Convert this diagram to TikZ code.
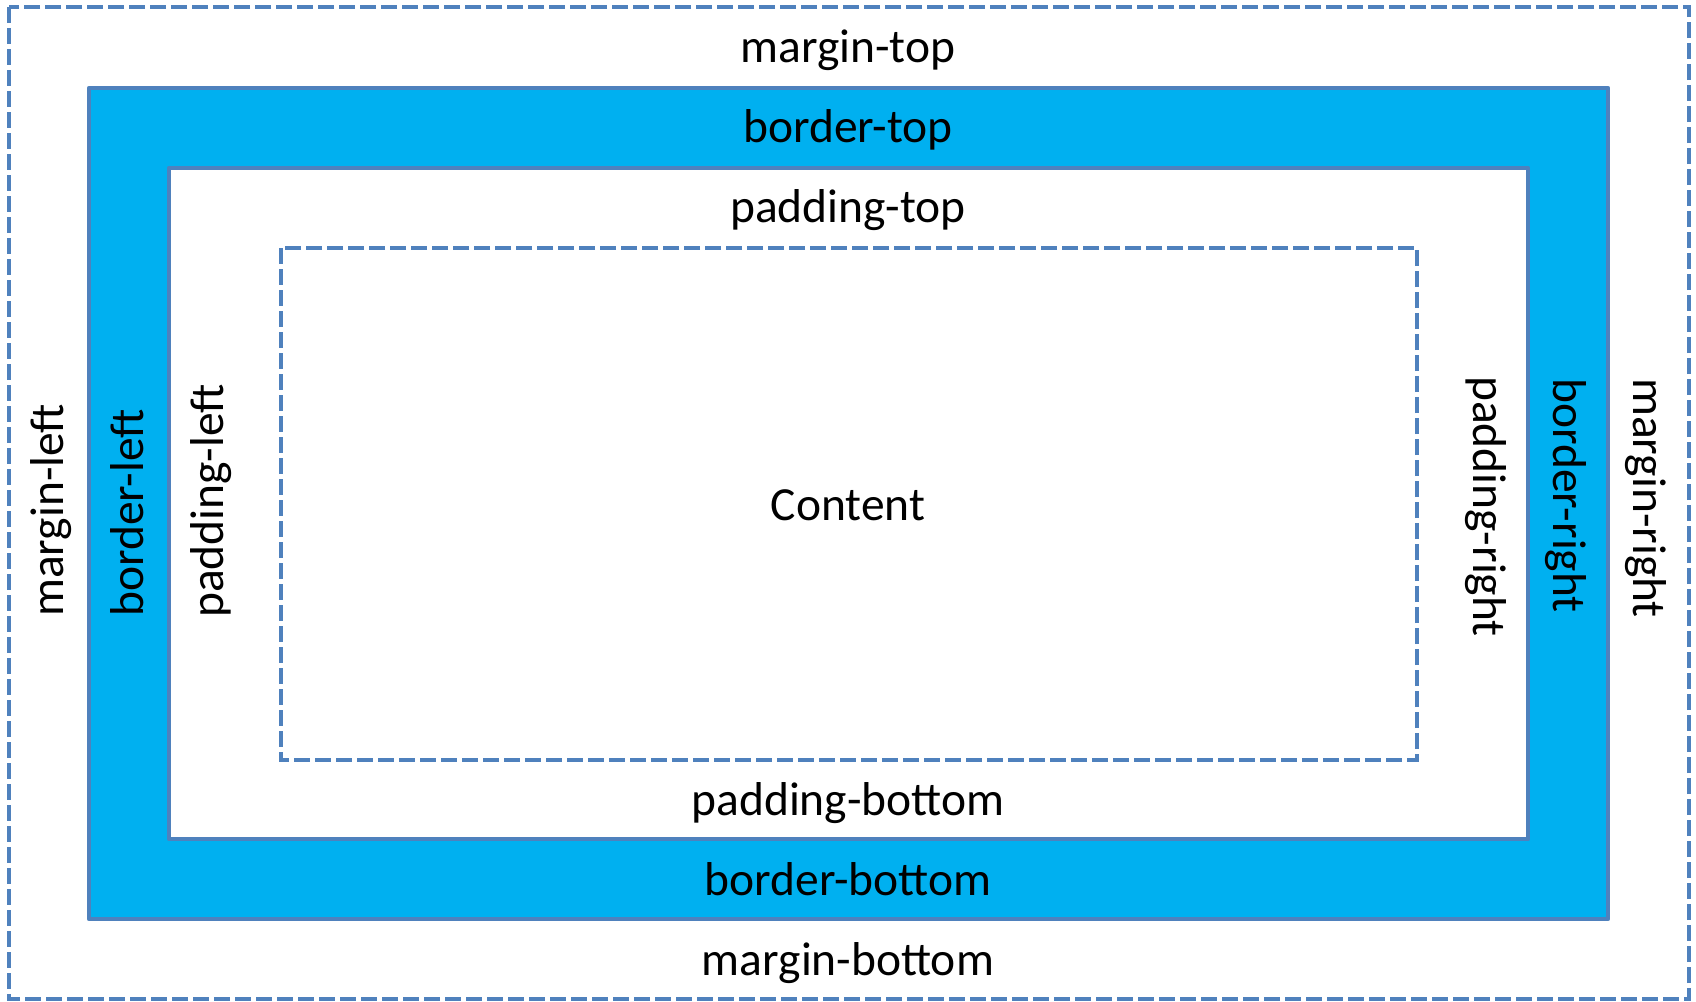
\documentclass[tikz,border=0pt]{standalone}
\usepackage{fontspec}
\setmainfont{Carlito}
\definecolor{edgeblue}{RGB}{79,129,189}
\definecolor{bordercyan}{RGB}{0,176,240}
\tikzset{
  dashedbox/.style={draw=edgeblue, line width=3.8pt, dash pattern=on 16pt off 5pt},
  solidbox/.style={draw=edgeblue, line width=4.6pt, line join=round},
  lbl/.style={inner sep=0pt, font=\fontsize{47.5}{56}\selectfont, text=black},
}
\begin{document}
\begin{tikzpicture}[x=1pt,y=-1pt]
\useasboundingbox (0,0) rectangle (1696,1001);
% margin box
\draw[dashedbox] (9,7) rectangle (1689,999);
% border box
\draw[solidbox, fill=bordercyan] (89,88) rectangle (1608,919);
% padding box
\draw[solidbox, fill=white] (169,168) rectangle (1528,839);
% content box
\draw[dashedbox] (281,248) rectangle (1417,760);
% horizontal labels
\node[lbl, anchor=base] (mt) at (848,62) {margin-top};
\node[lbl, anchor=base] (bt) at (848,142) {border-top};
\node[lbl, anchor=base] (pt) at (848,222) {padding-top};
\node[lbl, anchor=base] (ct) at (848,520) {Content};
\node[lbl, anchor=base] (pb) at (848,815) {padding-bottom};
\node[lbl, anchor=base] (bb) at (848,895) {border-bottom};
\node[lbl, anchor=base] (mb) at (848,975) {margin-bottom};
% left labels
\node[lbl, rotate=90, anchor=base west] (ml) at (63,617) {margin-left};
\node[lbl, rotate=90, anchor=base west] (bl) at (143,617) {border-left};
\node[lbl, rotate=90, anchor=base west] (pl) at (223,618) {padding-left};
% right labels
\node[lbl, rotate=-90, anchor=base west] (pr) at (1473,376) {padding-right};
\node[lbl, rotate=-90, anchor=base west] (br) at (1553,378) {border-right};
\node[lbl, rotate=-90, anchor=base west] (mr) at (1633,378) {margin-right};
\end{tikzpicture}
\end{document}
